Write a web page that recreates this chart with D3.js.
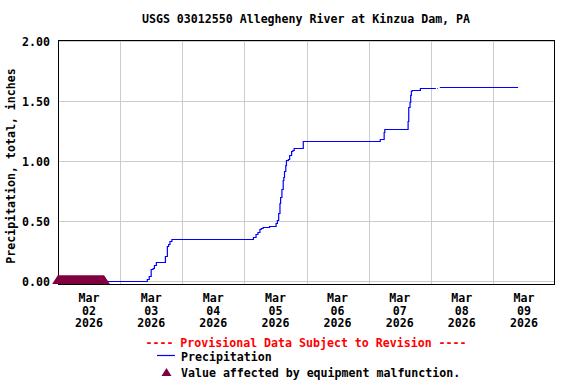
<!DOCTYPE html>
<html>
<head>
<meta charset="utf-8">
<script src="https://cdn.jsdelivr.net/npm/d3@7"></script>
<style>
  html, body { margin: 0; padding: 0; background: #ffffff; }
  svg { display: block; }
  text { font-family: "DejaVu Sans Mono", "Liberation Mono", monospace; font-weight: bold; font-size: 11.6px; }
</style>
</head>
<body>
<div id="chart"></div>
<script>
// ---------------- DATA ----------------
const titleText = "USGS 03012550 Allegheny River at Kinzua Dam, PA";
const yAxisTitle = "Precipitation, total, inches";
const yTickValues = [0, 0.5, 1.0, 1.5, 2.0];
const yTickLabels = ["0.00", "0.50", "1.00", "1.50", "2.00"];
const dayStarts = ["2026-03-02", "2026-03-03", "2026-03-04", "2026-03-05", "2026-03-06", "2026-03-07", "2026-03-08", "2026-03-09", "2026-03-10"];
const dayLabelMonth = ["Mar", "Mar", "Mar", "Mar", "Mar", "Mar", "Mar", "Mar"];
const dayLabelDay = ["02", "03", "04", "05", "06", "07", "08", "09"];
const dayLabelYear = ["2026", "2026", "2026", "2026", "2026", "2026", "2026", "2026"];

// Precipitation (cumulative), change points; null = missing value
const precipTimes = [
  "2026-03-02 18:00", "2026-03-03 10:15", "2026-03-03 10:30", "2026-03-03 11:15",
  "2026-03-03 12:00", "2026-03-03 12:45", "2026-03-03 13:15", "2026-03-03 14:00",
  "2026-03-03 17:30", "2026-03-03 18:15", "2026-03-03 18:45", "2026-03-03 19:15",
  "2026-03-03 20:00", "2026-03-05 03:30", "2026-03-05 04:30", "2026-03-05 05:15",
  "2026-03-05 06:00", "2026-03-05 06:30", "2026-03-05 07:15", "2026-03-05 09:45",
  "2026-03-05 12:15", "2026-03-05 12:45", "2026-03-05 13:15", "2026-03-05 13:45",
  "2026-03-05 14:00", "2026-03-05 14:30", "2026-03-05 15:00", "2026-03-05 15:15",
  "2026-03-05 15:30", "2026-03-05 16:00", "2026-03-05 16:15", "2026-03-05 17:00",
  "2026-03-05 17:30", "2026-03-05 18:15", "2026-03-05 18:45", "2026-03-05 19:15",
  "2026-03-05 22:45", "2026-03-07 04:30", "2026-03-07 06:00", "2026-03-07 06:15",
  "2026-03-07 15:15", "2026-03-07 15:30", "2026-03-07 16:00", "2026-03-07 16:15",
  "2026-03-07 16:30", "2026-03-07 16:45", "2026-03-07 20:00", "2026-03-08 02:00",
  "2026-03-08 02:15", "2026-03-08 02:30", "2026-03-08 02:45", "2026-03-08 03:00",
  "2026-03-08 03:30", "2026-03-09 09:45"
];
const precipValues = [
  0.00, 0.00, 0.02, 0.04,
  0.10, 0.11, 0.13, 0.16,
  0.21, 0.29, 0.31, 0.33,
  0.35, 0.37, 0.39, 0.41,
  0.43, 0.44, 0.45, 0.46,
  0.48, 0.51, 0.57, 0.65,
  0.70, 0.77, 0.84, 0.87,
  0.92, 0.97, 1.01, 1.02,
  1.05, 1.08, 1.09, 1.11,
  1.17, 1.18, 1.24, 1.27,
  1.33, 1.45, 1.49, 1.55,
  1.58, 1.59, 1.61, 1.61,
  null, 1.61, 1.61, null,
  1.62, 1.62
];

// Values affected by equipment malfunction
const malfunctionTimes = [
  "2026-03-02 00:00", "2026-03-02 00:15", "2026-03-02 00:30", "2026-03-02 00:45",
  "2026-03-02 01:00", "2026-03-02 01:15", "2026-03-02 01:30", "2026-03-02 01:45",
  "2026-03-02 02:00", "2026-03-02 02:15", "2026-03-02 02:30", "2026-03-02 02:45",
  "2026-03-02 03:00", "2026-03-02 03:15", "2026-03-02 03:30", "2026-03-02 03:45",
  "2026-03-02 04:00", "2026-03-02 04:15", "2026-03-02 04:30", "2026-03-02 04:45",
  "2026-03-02 05:00", "2026-03-02 05:15", "2026-03-02 05:30", "2026-03-02 05:45",
  "2026-03-02 06:00", "2026-03-02 06:15", "2026-03-02 06:30", "2026-03-02 06:45",
  "2026-03-02 07:00", "2026-03-02 07:15", "2026-03-02 07:30", "2026-03-02 07:45",
  "2026-03-02 08:00", "2026-03-02 08:15", "2026-03-02 08:30", "2026-03-02 08:45",
  "2026-03-02 09:00", "2026-03-02 09:15", "2026-03-02 09:30", "2026-03-02 09:45",
  "2026-03-02 10:00", "2026-03-02 10:15", "2026-03-02 10:30", "2026-03-02 10:45",
  "2026-03-02 11:00", "2026-03-02 11:15", "2026-03-02 11:30", "2026-03-02 11:45",
  "2026-03-02 12:00", "2026-03-02 12:15", "2026-03-02 12:30", "2026-03-02 12:45",
  "2026-03-02 13:00", "2026-03-02 13:15", "2026-03-02 13:30", "2026-03-02 13:45",
  "2026-03-02 14:00", "2026-03-02 14:15", "2026-03-02 14:30", "2026-03-02 14:45",
  "2026-03-02 15:00", "2026-03-02 15:15", "2026-03-02 15:30", "2026-03-02 15:45",
  "2026-03-02 16:00", "2026-03-02 16:15", "2026-03-02 16:30", "2026-03-02 16:45",
  "2026-03-02 17:00", "2026-03-02 17:15", "2026-03-02 17:30", "2026-03-02 17:45"
];
const malfunctionValues = [
  0, 0, 0, 0, 0, 0, 0, 0, 0, 0, 0, 0, 0, 0, 0, 0, 0, 0, 0, 0, 0, 0, 0, 0,
  0, 0, 0, 0, 0, 0, 0, 0, 0, 0, 0, 0, 0, 0, 0, 0, 0, 0, 0, 0, 0, 0, 0, 0,
  0, 0, 0, 0, 0, 0, 0, 0, 0, 0, 0, 0, 0, 0, 0, 0, 0, 0, 0, 0, 0, 0, 0, 0
];

const provisionalText = "---- Provisional Data Subject to Revision ----";
const legendPrecip = "Precipitation";
const legendMalfunction = "Value affected by equipment malfunction.";

// ---------------- CHART ----------------
(function () {
const W = 576, H = 384;
const pLeft = 58, pRight = 555, pTop = 40, pBottom = 284;
const lineColor = "#0000ff", markColor = "#800040", gridColor = "#cccccc";

const parseT = d3.utcParse("%Y-%m-%d %H:%M");
const parseD = d3.utcParse("%Y-%m-%d");
const days = dayStarts.map(parseD);

const x = d3.scaleUtc().domain([days[0], days[days.length - 1]]).range([pLeft, pRight]);
const y = d3.scaleLinear().domain([-0.025, 2.0]).range([pBottom, 41]);

const precip = precipTimes.map((t, i) => ({ t: parseT(t), v: precipValues[i] }));
const malf = malfunctionTimes.map((t, i) => ({ t: parseT(t), v: malfunctionValues[i] }));

const svg = d3.select("#chart").append("svg").attr("width", W).attr("height", H);
svg.append("rect").attr("width", W).attr("height", H).attr("fill", "#fff");

const crisp = v => Math.round(v) + 0.5;

// gridlines
const grid = svg.append("g").attr("stroke", gridColor).attr("stroke-width", 1).attr("shape-rendering", "crispEdges");
yTickValues.forEach(v => {
  grid.append("line").attr("x1", pLeft).attr("x2", pRight).attr("y1", crisp(y(v))).attr("y2", crisp(y(v)));
});
days.slice(1, -1).forEach(d => {
  grid.append("line").attr("x1", crisp(x(d))).attr("x2", crisp(x(d))).attr("y1", pTop).attr("y2", pBottom);
});

// frame
svg.append("rect").attr("x", pLeft + 0.5).attr("y", pTop + 0.5)
  .attr("width", pRight - pLeft - 1).attr("height", pBottom - pTop)
  .attr("fill", "none").attr("stroke", "#000").attr("stroke-width", 1).attr("shape-rendering", "crispEdges");

// precipitation line
const line = d3.line()
  .defined(d => d.v !== null)
  .x(d => x(d.t))
  .y(d => crisp(y(d.v)))
  .curve(d3.curveStepAfter);
svg.append("path").datum(precip).attr("d", line)
  .attr("fill", "none").attr("stroke", lineColor).attr("stroke-width", 1.2);

// malfunction markers
const tri = (cx, cy, hw, up, down) => `M${cx - hw},${cy + down}L${cx},${cy - up}L${cx + hw},${cy + down}Z`;
svg.append("g").selectAll("path").data(malf).join("path")
  .attr("d", d => tri(x(d.t), y(d.v), 5.8, 6, 3))
  .attr("fill", markColor);

// y tick labels
svg.append("g").selectAll("text").data(yTickValues).join("text")
  .attr("x", 50).attr("y", d => y(d) + 4.5)
  .attr("text-anchor", "end").attr("fill", "#000")
  .text((d, i) => yTickLabels[i]);

// x labels (centered on each day)
const xl = svg.append("g").attr("fill", "#000").attr("text-anchor", "middle");
dayLabelDay.forEach((lab, i) => {
  const cx = (x(days[i]) + x(days[i + 1])) / 2;
  xl.append("text").attr("x", cx).attr("y", 302).text(dayLabelMonth[i]);
  xl.append("text").attr("x", cx).attr("y", 314.5).text(lab);
  xl.append("text").attr("x", cx).attr("y", 327).text(dayLabelYear[i]);
});

// title
svg.append("text").attr("x", 306).attr("y", 23).attr("text-anchor", "middle").attr("fill", "#000").text(titleText);

// y axis title
svg.append("text").attr("transform", "translate(15,166) rotate(-90)")
  .attr("text-anchor", "middle").attr("fill", "#000").text(yAxisTitle);

// legend
svg.append("text").attr("x", 306).attr("y", 347).attr("text-anchor", "middle").attr("fill", "#ff0000").text(provisionalText);
svg.append("line").attr("x1", 157).attr("x2", 175).attr("y1", 355.5).attr("y2", 355.5)
  .attr("stroke", lineColor).attr("stroke-width", 1.2);
svg.append("text").attr("x", 181).attr("y", 360.5).attr("fill", "#000").text(legendPrecip);
svg.append("path").attr("d", tri(166.5, 372.5, 5, 4.5, 3.5)).attr("fill", markColor);
svg.append("text").attr("x", 181).attr("y", 377).attr("fill", "#000").text(legendMalfunction);
})();
</script>
</body>
</html>
